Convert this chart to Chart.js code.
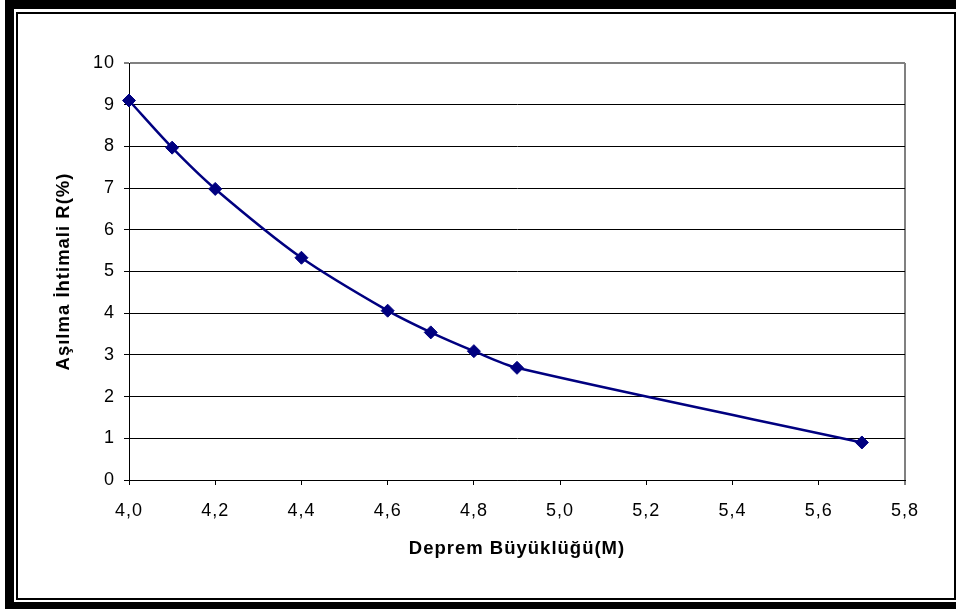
<!DOCTYPE html>
<html>
<head>
<meta charset="utf-8">
<script src="https://cdn.jsdelivr.net/npm/chart.js@4/dist/chart.umd.min.js"></script>
<style>
  html, body { margin: 0; padding: 0; background: #fff; overflow: hidden; }
  .shadow { position: absolute; left: 5px; top: 0; width: 960px; height: 609px; background: #000; }
  .sheet { position: absolute; left: 14px; top: 9px; width: 960px; height: 593px; background: #fff; }
  .frame { position: absolute; left: 16px; top: 12px; width: 940px; height: 588px; box-sizing: border-box; border: 2px solid #000; }
  #chart { position: absolute; left: 0; top: 0; }
</style>
</head>
<body>
<div class="shadow"></div>
<div class="sheet"></div>
<div class="frame"></div>
<canvas id="chart" width="956" height="609"></canvas>
<script>
// magnitude vs exceedance probability
const magnitudes = [4.0, 4.1, 4.2, 4.4, 4.6, 4.7, 4.8, 4.9, 5.7];
const exceedance = [9.1, 7.97, 6.98, 5.33, 4.06, 3.54, 3.09, 2.69, 0.9];

const xMin = 4.0, xMax = 5.8, xStep = 0.2;
const yMin = 0, yMax = 10, yStep = 1;

const xTitle = 'Deprem Büyüklüğü(M)';
const yTitle = 'Aşılma İhtimali R(%)';

const navy = '#000080';
const tickFont = { family: 'Liberation Sans', size: 18 };
const titleFont = { family: 'Liberation Sans', size: 18.5, weight: 'bold' };

let points = magnitudes.map((m, i) => ({ x: m, y: exceedance[i] }));

// the labels are set a little wider than plain Arial
const spacing = {
  id: 'spacing',
  beforeDraw(chart) {
    chart.ctx.letterSpacing = '1px';
  }
};

let chart = new Chart(document.getElementById('chart'), {
  type: 'scatter',
  data: {
    datasets: [{
      data: points,
      showLine: true,
      borderColor: navy,
      borderWidth: 2.5,
      tension: 0.3,
      pointStyle: 'rectRot',
      pointRadius: 6.5,
      pointBackgroundColor: navy,
      pointBorderColor: navy,
      pointBorderWidth: 1,
      clip: false
    }]
  },
  plugins: [spacing],
  options: {
    responsive: false,
    animation: false,
    layout: { padding: { top: 63, right: 51, left: 0, bottom: 0 } },
    plugins: { legend: { display: false }, tooltip: { enabled: false } },
    scales: {
      x: {
        type: 'linear',
        min: xMin,
        max: xMax,
        afterFit: s => { s.height = 129; },
        ticks: {
          stepSize: xStep,
          color: '#000',
          font: tickFont,
          padding: 15,
          maxRotation: 0,
          callback: v => v.toFixed(1).replace('.', ',')
        },
        grid: {
          color: c => (c.tick && Math.abs(c.tick.value - xMax) < 1e-6) ? '#808080' : 'rgba(0,0,0,0)',
          lineWidth: c => (c.tick && Math.abs(c.tick.value - xMax) < 1e-6) ? 2 : 1,
          tickColor: '#000',
          tickWidth: 1,
          tickLength: 5
        },
        border: { color: '#000', width: 1 },
        title: {
          display: true,
          text: xTitle,
          color: '#000',
          font: titleFont,
          padding: { top: 0, bottom: 49 }
        }
      },
      y: {
        min: yMin,
        max: yMax,
        afterFit: s => { s.width = 129; },
        ticks: {
          stepSize: yStep,
          color: '#000',
          font: tickFont,
          padding: 9
        },
        grid: {
          color: c => (c.tick && c.tick.value === yMax) ? '#808080' : '#000',
          lineWidth: c => (c.tick && c.tick.value === yMax) ? 2 : 1,
          tickColor: '#000',
          tickWidth: 1,
          tickLength: 5
        },
        border: { color: '#000', width: 1 },
        title: {
          display: true,
          text: yTitle,
          color: '#000',
          font: titleFont,
          padding: { top: 53, bottom: 0 }
        }
      }
    }
  }
});
</script>
</body>
</html>
